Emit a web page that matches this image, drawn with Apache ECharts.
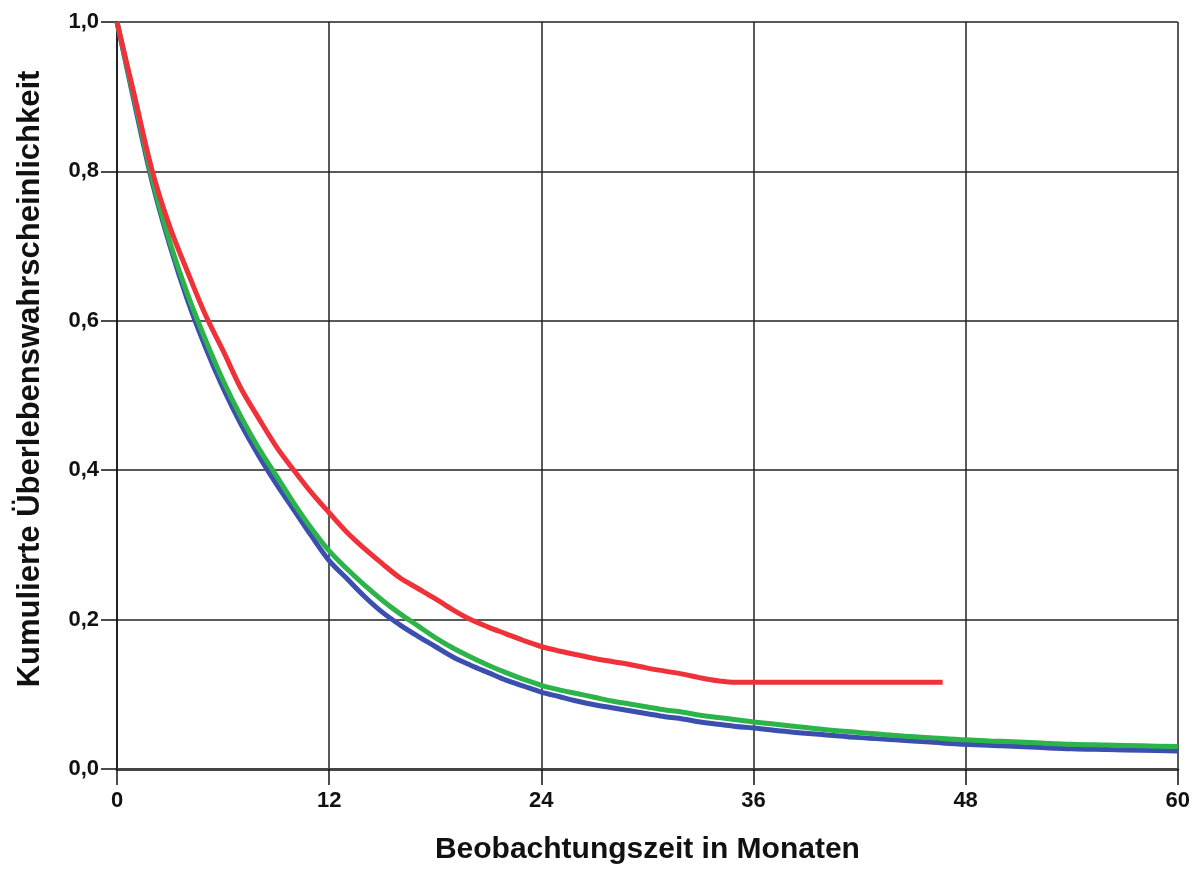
<!DOCTYPE html>
<html>
<head>
<meta charset="utf-8">
<script src="https://cdn.jsdelivr.net/npm/echarts@6/dist/echarts.min.js"></script>
<style>
  html, body { margin: 0; padding: 0; background: #fff; }
  #chart { width: 1193px; height: 870px; }
</style>
</head>
<body>
<div id="chart"></div>
<script>
// Kumulierte Überlebenswahrscheinlichkeit je Gruppe: [Monat, Wahrscheinlichkeit]
const blueCurve = [
  [0, 1.0], [1, 0.89], [2, 0.785], [3, 0.70], [4, 0.627], [5, 0.565], [6, 0.51],
  [7, 0.462], [8, 0.42], [9, 0.382], [10, 0.347], [11, 0.312], [12, 0.279],
  [13, 0.255], [14, 0.231], [15, 0.210], [16, 0.193], [17, 0.178], [18, 0.164],
  [19, 0.150], [20, 0.139], [21, 0.129], [22, 0.119], [23, 0.111], [24, 0.103],
  [25, 0.097], [26, 0.091], [27, 0.086], [28, 0.082], [29, 0.078], [30, 0.074],
  [31, 0.070], [32, 0.067], [33, 0.063], [34, 0.060], [35, 0.057], [36, 0.055],
  [38, 0.050], [40, 0.046], [42, 0.042], [44, 0.039], [46, 0.036], [48, 0.033],
  [50, 0.031], [52, 0.029], [54, 0.027], [56, 0.026], [58, 0.025], [60, 0.024]
];
const greenCurve = [
  [0, 1.0], [1, 0.895], [2, 0.79], [3, 0.705], [4, 0.635], [5, 0.575], [6, 0.52],
  [7, 0.472], [8, 0.43], [9, 0.393], [10, 0.356], [11, 0.322], [12, 0.292],
  [13, 0.268], [14, 0.246], [15, 0.226], [16, 0.208], [17, 0.192], [18, 0.176],
  [19, 0.162], [20, 0.150], [21, 0.139], [22, 0.129], [23, 0.120], [24, 0.112],
  [25, 0.106], [26, 0.101], [27, 0.096], [28, 0.091], [29, 0.087], [30, 0.083],
  [31, 0.079], [32, 0.076], [33, 0.072], [34, 0.069], [35, 0.066], [36, 0.063],
  [38, 0.058], [40, 0.053], [42, 0.049], [44, 0.045], [46, 0.042], [48, 0.039],
  [50, 0.037], [52, 0.035], [54, 0.033], [56, 0.032], [58, 0.031], [60, 0.030]
];
const redCurve = [
  [0, 1.0], [1, 0.90], [2, 0.80], [3, 0.725], [4, 0.665], [5, 0.608], [6, 0.56],
  [7, 0.51], [8, 0.47], [9, 0.432], [10, 0.40], [11, 0.37], [12, 0.343],
  [13, 0.317], [14, 0.295], [15, 0.275], [16, 0.256], [17, 0.242], [18, 0.228],
  [19, 0.213], [20, 0.200], [21, 0.190], [22, 0.181], [23, 0.172], [24, 0.164],
  [25, 0.158], [26, 0.153], [27, 0.148], [28, 0.144], [29, 0.140], [30, 0.135],
  [31, 0.131], [32, 0.127], [33, 0.122], [34, 0.118], [35, 0.116], [46.7, 0.116]
];
const xTicks = [0, 12, 24, 36, 48, 60];
const yTicks = [0, 0.2, 0.4, 0.6, 0.8, 1.0];
const xTitle = 'Beobachtungszeit in Monaten';
const yTitle = 'Kumulierte Überlebenswahrscheinlichkeit';

const labelFont = {
  fontFamily: '"Liberation Sans", Arial, sans-serif',
  fontWeight: 'bold',
  fontSize: 22,
  color: '#111'
};
const titleFont = {
  fontFamily: '"Liberation Sans", Arial, sans-serif',
  fontWeight: 'bold',
  color: '#111'
};

const chart = echarts.init(document.getElementById('chart'), null, { renderer: 'canvas' });

function line(name, data, color) {
  return {
    name: name,
    type: 'line',
    data: data,
    showSymbol: false,
    smooth: 0.35,
    lineStyle: { color: color, width: 5 },
    z: 3,
    animation: false
  };
}

chart.setOption({
  backgroundColor: '#ffffff',
  animation: false,
  grid: { left: 117, right: 15, top: 22, bottom: 98, containLabel: false },
  xAxis: {
    type: 'value',
    min: xTicks[0],
    max: xTicks[xTicks.length - 1],
    interval: xTicks[1] - xTicks[0],
    name: xTitle,
    nameLocation: 'middle',
    nameGap: 66,
    nameTextStyle: Object.assign({ fontSize: 30 }, titleFont),
    axisLine: { show: true, onZero: false, lineStyle: { color: '#444', width: 3 } },
    axisTick: { show: true, length: 16, lineStyle: { color: '#111', width: 1.5 } },
    axisLabel: Object.assign({ margin: 21 }, labelFont),
    splitLine: { show: true, lineStyle: { color: '#222', width: 1.5 } }
  },
  yAxis: {
    type: 'value',
    min: yTicks[0],
    max: yTicks[yTicks.length - 1],
    interval: 0.2,
    axisLine: { show: true, lineStyle: { color: '#111', width: 1.5 } },
    axisTick: { show: true, length: 16, lineStyle: { color: '#111', width: 1.5 } },
    axisLabel: Object.assign({
      margin: 18,
      formatter: v => v.toFixed(1).replace('.', ',')
    }, labelFont),
    splitLine: { show: true, lineStyle: { color: '#222', width: 1.5 } }
  },
  graphic: [{
    type: 'text',
    x: 30,
    y: 379,
    rotation: Math.PI / 2,
    style: {
      text: yTitle,
      fontSize: 31,
      fontFamily: titleFont.fontFamily,
      fontWeight: 'bold',
      fill: '#111',
      align: 'center',
      verticalAlign: 'middle'
    }
  }],
  series: [
    line('Gruppe 1', blueCurve, '#3a4fae'),
    line('Gruppe 2', greenCurve, '#2cb44b'),
    line('Gruppe 3', redCurve, '#ef323a')
  ]
});
</script>
</body>
</html>
